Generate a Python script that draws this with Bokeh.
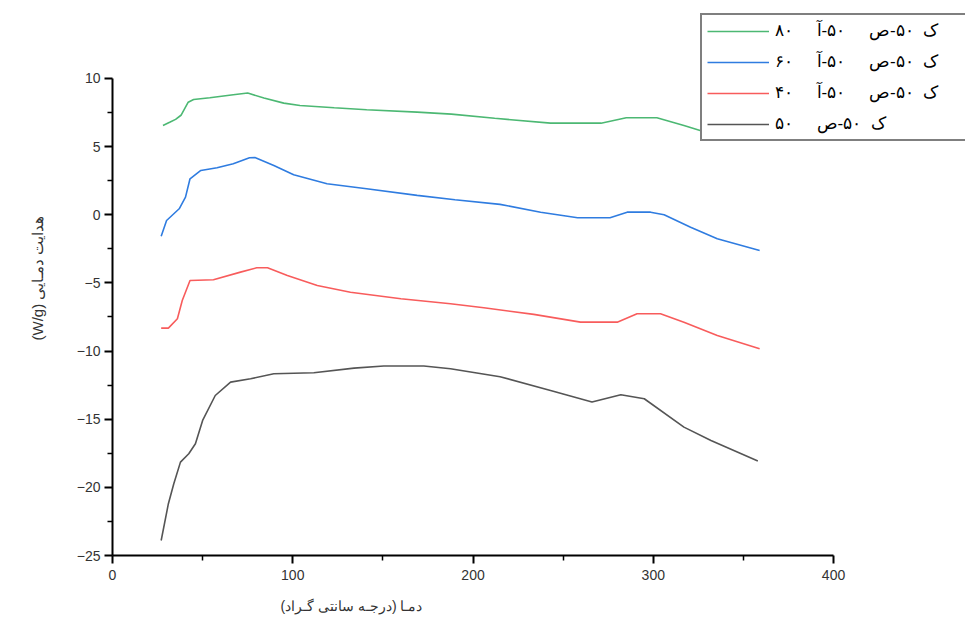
from bokeh.plotting import figure
from bokeh.models import Legend, LegendItem, Title, FixedTicker
from bokeh.embed import file_html
from bokeh.resources import INLINE

# ---- data ----
x_green = [28, 32, 35, 38, 42, 45, 54, 67, 75, 84, 95, 104, 123, 141, 169, 188, 212, 243, 271, 285, 302, 317, 326, 340, 350, 359]
y_green = [6.55, 6.8, 7.0, 7.3, 8.26, 8.46, 8.58, 8.8, 8.93, 8.56, 8.19, 8.02, 7.85, 7.7, 7.53, 7.38, 7.08, 6.72, 6.72, 7.12, 7.12, 6.55, 6.18, 5.85, 5.65, 5.5]

x_blue = [27, 30, 37, 40.5, 43, 49, 58, 67, 76, 79, 89.5, 100.5, 119, 141, 169, 190, 215, 237.5, 258, 276, 285.5, 298.5, 306, 320.7, 335.5, 359]
y_blue = [-1.57, -0.42, 0.44, 1.29, 2.64, 3.25, 3.45, 3.74, 4.18, 4.2, 3.62, 2.93, 2.27, 1.91, 1.42, 1.1, 0.76, 0.19, -0.22, -0.22, 0.19, 0.19, 0.0, -0.91, -1.76, -2.62]

x_red = [27, 31, 36, 38.7, 43, 56, 71, 80, 86, 97, 113.6, 132, 160, 187.5, 206, 233.7, 259.6, 280, 291, 304, 317, 335.5, 359]
y_red = [-8.32, -8.32, -7.63, -6.29, -4.82, -4.77, -4.21, -3.89, -3.89, -4.45, -5.19, -5.68, -6.16, -6.53, -6.82, -7.31, -7.88, -7.88, -7.26, -7.26, -7.88, -8.86, -9.83]

x_black = [27, 31, 34, 37.7, 42.3, 46, 50, 57, 65.5, 76.6, 89.5, 111.7, 134, 150.5, 172.7, 187.5, 215, 243, 266, 282, 295, 317, 332, 358]
y_black = [-23.9, -21.2, -19.74, -18.15, -17.53, -16.8, -15.09, -13.26, -12.28, -12.03, -11.67, -11.59, -11.25, -11.1, -11.1, -11.3, -11.88, -12.89, -13.74, -13.2, -13.5, -15.58, -16.56, -18.07]

SP = "\u00a0" * 5
SK = "\u00a0\u00a0"
series_labels = ["ک" + SK + "۵۰-ص" + SP + "۵۰-آ" + SP + "۸۰",
                 "ک" + SK + "۵۰-ص" + SP + "۵۰-آ" + SP + "۶۰",
                 "ک" + SK + "۵۰-ص" + SP + "۵۰-آ" + SP + "۴۰",
                 "ک" + SK + "۵۰-ص" + SP + "۵۰"]
x_ticks = [0, 100, 200, 300, 400]
y_ticks = [10, 5, 0, -5, -10, -15, -20, -25]
x_title = "دمـا (درجـه سانتی گـراد)"
y_title = "(W/g) هدایت دمـایی"

colors = ["#4cb873", "#2f7ce0", "#f85c5c", "#555555"]

FONT = "Liberation Sans"

# frame spans to the top/right canvas edges; axes are bounded to the data extent
p = figure(width=965, height=630, output_backend="svg", toolbar_location=None, title=None,
           x_range=(0, 473.2), y_range=(-25, 15.72),
           min_border_left=112, min_border_right=0, min_border_top=0, min_border_bottom=75)
p.outline_line_color = None
p.xgrid.visible = False
p.ygrid.visible = False
p.background_fill_color = "white"
p.border_fill_color = "white"

rs = []
for xs, ys, c in [(x_green, y_green, colors[0]), (x_blue, y_blue, colors[1]),
                  (x_red, y_red, colors[2]), (x_black, y_black, colors[3])]:
    rs.append(p.line(xs, ys, line_color=c, line_width=1.6))

for ax in (p.xaxis[0], p.yaxis[0]):
    ax.axis_line_color = "black"
    ax.axis_line_width = 2
    ax.major_tick_line_color = "black"
    ax.major_tick_line_width = 2
    ax.minor_tick_line_color = "black"
    ax.minor_tick_line_width = 1.5
    ax.major_tick_in = 0
    ax.major_tick_out = 8
    ax.minor_tick_in = 0
    ax.minor_tick_out = 5
    ax.major_label_text_font = FONT
    ax.major_label_text_font_size = "14px"
    ax.major_label_text_color = "#333333"

p.xaxis[0].bounds = (0, 400)
p.yaxis[0].bounds = (-25, 10)
p.xaxis[0].ticker = FixedTicker(ticks=x_ticks, minor_ticks=[50, 150, 250, 350])
p.yaxis[0].ticker = FixedTicker(ticks=y_ticks, minor_ticks=[7.5, 2.5, -2.5, -7.5, -12.5, -17.5, -22.5])
p.xaxis[0].major_label_standoff = 6
p.yaxis[0].major_label_standoff = 4

p.yaxis[0].axis_label = y_title
p.yaxis[0].axis_label_text_font = FONT
p.yaxis[0].axis_label_text_font_style = "normal"
p.yaxis[0].axis_label_text_font_size = "15px"
p.yaxis[0].axis_label_text_color = "#333333"
p.yaxis[0].axis_label_standoff = 28

xt = Title(text=x_title, align="left", vertical_align="bottom", offset=168, text_font=FONT,
           text_font_size="14px", text_font_style="normal", text_color="#333333", standoff=26)
p.add_layout(xt, "below")

legend = Legend(items=[LegendItem(label=series_labels[i], renderers=[rs[i]]) for i in range(4)],
                location=(588, 414), orientation="vertical")
legend.border_line_color = "black"
legend.border_line_width = 2
legend.background_fill_color = "white"
legend.background_fill_alpha = 1
legend.label_text_font = FONT
legend.label_text_font_size = "17px"
legend.label_text_color = "black"
legend.glyph_width = 62
legend.glyph_height = 20
legend.label_height = 20
legend.label_width = 240
legend.spacing = 10
legend.padding = 5
legend.margin = 0
legend.label_standoff = 6
p.add_layout(legend)

open("out.html", "w").write(file_html(p, INLINE))
